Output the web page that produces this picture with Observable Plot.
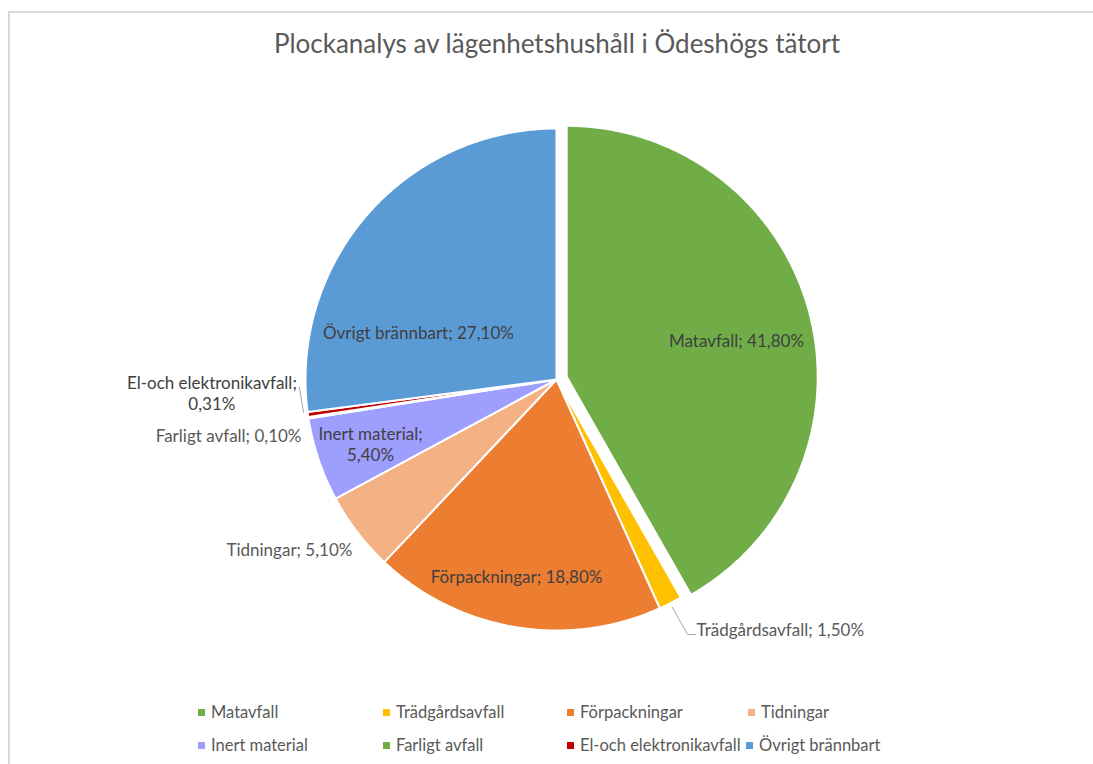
<!DOCTYPE html>
<html>
<head>
<meta charset="utf-8">
<script src="https://cdn.jsdelivr.net/npm/d3@7"></script>
<script src="https://cdn.jsdelivr.net/npm/@observablehq/plot@0.6"></script>
<style>
  html, body { margin: 0; padding: 0; background: #fff; }
  body { width: 1093px; height: 764px; position: relative; overflow: hidden; font-family: Lato, "Open Sans", sans-serif; }
  #frame { position: absolute; left: 8px; top: 11px; width: 1200px; height: 900px; border: 2px solid #d9d9d9; box-sizing: border-box; }
  #title { position: absolute; left: 0; top: 27px; width: 1114px; text-align: center; font-size: 26px; color: #595959; white-space: nowrap; }
  #chart { position: absolute; left: 0; top: 80px; }
  .leg { position: absolute; font-size: 16.5px; color: #595959; white-space: nowrap; line-height: 18px; }
  .leg i { display: inline-block; width: 7px; height: 7px; margin-right: 6px; vertical-align: 2px; }
</style>
</head>
<body>
<div id="frame"></div>
<div id="title">Plockanalys av lägenhetshushåll i Ödeshögs tätort</div>
<div id="chart"></div>
<div id="legend"></div>
<script>
// ---- data ----
const categories = ["Matavfall", "Trädgårdsavfall", "Förpackningar", "Tidningar", "Inert material", "Farligt avfall", "El-och elektronikavfall", "Övrigt brännbart"];
const values = [41.8, 1.5, 18.8, 5.1, 5.4, 0.1, 0.31, 27.1];
const colors = ["#70AD47", "#FFC000", "#ED7D31", "#F4B183", "#9E9EFF", "#70AD47", "#C00000", "#5B9BD5"];
const exploded = ["Matavfall"];

// ---- layout (not data) ----
const W = 1093, H = 600;
const cx = 556, cy = 299, R = 251;   // pie centre / radius in svg pixels
const explode = 0.042;               // offset of exploded slice, in radii
// label anchors in radius units relative to pie centre (y up)
const labelLayout = {
  "Matavfall":              {dx: 0.717,  dy: 0.155,  anchor: "middle", sep: " "},
  "Trädgårdsavfall":        {dx: 0.558,  dy: -1.0,   anchor: "start",  sep: " "},
  "Förpackningar":          {dx: -0.159, dy: -0.785, anchor: "middle", sep: " "},
  "Tidningar":              {dx: -0.813, dy: -0.681, anchor: "end",    sep: " "},
  "Inert material":         {dx: -0.741, dy: -0.257, anchor: "middle", sep: "\n"},
  "Farligt avfall":         {dx: -1.016, dy: -0.227, anchor: "end",    sep: " "},
  "El-och elektronikavfall":{dx: -1.373, dy: -0.052, anchor: "middle", sep: "\n"},
  "Övrigt brännbart":       {dx: -0.550, dy: 0.187,  anchor: "middle", sep: " "}
};
const leaderLayout = {
  "Trädgårdsavfall": [[0.462, -0.908], [0.522, -1.016], [0.554, -1.016]],
  "El-och elektronikavfall": [[-1.008, -0.131], [-1.024, -0.032]]
};
const legendRows = [[198, 383, 567, 748], [198, 383, 567, 746]];
const legendTops = [703, 736];

// ---- geometry from values ----
const total = d3.sum(values);
const toRad = Math.PI / 180;
let acc = 0;
const slices = categories.map((name, i) => {
  const a0 = acc / total * 360; acc += values[i];
  const a1 = acc / total * 360;
  return {name, value: values[i], a0, a1, mid: (a0 + a1) / 2};
});
const polyPts = [];
for (const s of slices) {
  const off = exploded.includes(s.name) ? explode : 0;
  const ox = off * Math.sin(s.mid * toRad), oy = off * Math.cos(s.mid * toRad);
  polyPts.push({name: s.name, x: ox, y: oy});
  const n = Math.max(2, Math.ceil((s.a1 - s.a0) / 0.5));
  for (let k = 0; k <= n; k++) {
    const a = (s.a0 + (s.a1 - s.a0) * k / n) * toRad;
    polyPts.push({name: s.name, x: ox + Math.sin(a), y: oy + Math.cos(a)});
  }
  polyPts.push({name: s.name, x: ox, y: oy});
}
const fmt = v => v.toFixed(2).replace(".", ",") + "%";
const labels = slices.map(s => {
  const L = labelLayout[s.name];
  return {name: s.name, x: L.dx, y: L.dy, anchor: L.anchor, text: s.name + ";" + L.sep + fmt(s.value)};
});
const leaders = [];
for (const [name, pts] of Object.entries(leaderLayout)) pts.forEach(([x, y]) => leaders.push({name, x, y}));

const FS = 17;
const plot = Plot.plot({
  width: W, height: H,
  margin: 0,
  x: {domain: [-cx / R, (W - cx) / R], axis: null},
  y: {domain: [-(H - cy) / R, cy / R], axis: null},
  color: {domain: categories, range: colors},
  style: {fontFamily: "Lato, 'Open Sans', sans-serif", background: "transparent"},
  marks: [
    Plot.line(polyPts, {x: "x", y: "y", z: "name", fill: "name", stroke: "white", strokeWidth: 2, strokeLinejoin: "round", curve: "linear"}),
    Plot.line(leaders, {x: "x", y: "y", z: "name", stroke: "#a6a6a6", strokeWidth: 1}),
    Plot.text(labels.filter(d => d.anchor === "middle"), {x: "x", y: "y", text: "text", textAnchor: "middle", lineHeight: 1.25, fill: "#404040", fontSize: FS}),
    Plot.text(labels.filter(d => d.anchor === "start"), {x: "x", y: "y", text: "text", textAnchor: "start", fill: "#595959", fontSize: FS}),
    Plot.text(labels.filter(d => d.anchor === "end"), {x: "x", y: "y", text: "text", textAnchor: "end", fill: "#595959", fontSize: FS})
  ]
});
document.getElementById("chart").appendChild(plot);

// ---- legend ----
const legend = document.getElementById("legend");
categories.forEach((name, i) => {
  const row = Math.floor(i / 4), col = i % 4;
  const el = document.createElement("div");
  el.className = "leg";
  el.style.left = legendRows[row][col] + "px";
  el.style.top = legendTops[row] + "px";
  el.innerHTML = `<i style="background:${colors[i]}"></i>`;
  el.appendChild(document.createTextNode(name));
  legend.appendChild(el);
});
</script>
</body>
</html>
